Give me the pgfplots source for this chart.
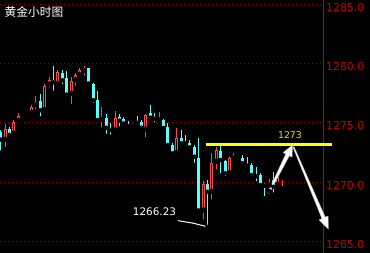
\documentclass[border=0pt]{standalone}
\usepackage{pgfplots}
\pgfplotsset{compat=1.18}
\usepackage{pgfplotstable}
\usepackage{fontspec}
\setmainfont{DejaVu Sans}
\newfontfamily\cjk{Noto Sans CJK SC}

\definecolor{upred}{RGB}{255,72,72}
\definecolor{downcyan}{RGB}{84,255,255}
\definecolor{gridred}{RGB}{150,0,0}
\definecolor{axisred}{RGB}{190,0,0}
\definecolor{labelred}{RGB}{200,0,0}
\definecolor{level}{RGB}{255,255,0}
\definecolor{leveltext}{RGB}{225,225,0}

% hourly gold candles: x position, open, high, low, close
% falling candles (filled cyan)
\pgfplotstableread{
x     o       h       l       c
0.5   1274.20 1274.40 1272.50 1273.60
9.5   1274.50 1274.70 1273.80 1274.00
22.5  1275.72 1275.72 1275.64 1275.64
27.5  1275.62 1275.62 1275.54 1275.54
40.5  1276.84 1277.43 1275.38 1276.08
53.5  1278.60 1279.85 1277.55 1278.44
62.5  1279.24 1279.50 1278.10 1278.60
66.5  1278.76 1279.37 1277.35 1277.40
88.5  1279.60 1279.66 1277.97 1278.33
93.5  1278.33 1278.35 1276.50 1276.92
97.5  1276.90 1277.70 1274.87 1275.24
106.5 1275.44 1275.78 1273.90 1274.60
110.5 1274.60 1274.96 1273.84 1274.40
119.5 1275.52 1275.80 1274.54 1275.20
123.5 1275.30 1275.52 1274.65 1274.96
128.5 1274.87 1275.15 1274.40 1274.73
137.5 1275.15 1275.57 1274.87 1275.00
141.5 1275.07 1275.24 1274.30 1274.60
150.5 1275.82 1276.56 1275.15 1275.45
154.5 1275.52 1275.86 1274.87 1275.35
163.5 1275.25 1275.35 1274.56 1274.56
167.5 1274.69 1275.00 1272.90 1273.14
172.5 1273.14 1273.28 1272.16 1272.44
181.5 1273.71 1274.41 1273.14 1273.29
185.5 1273.42 1273.98 1273.00 1273.29
189.5 1273.29 1273.57 1272.72 1272.95
194.5 1273.00 1273.14 1271.46 1272.16
198.5 1272.07 1273.70 1267.38 1267.62
207.5 1269.85 1270.19 1266.23 1269.20
220.5 1272.66 1273.14 1270.60 1271.88
225.5 1271.82 1271.88 1270.33 1270.76
242.5 1272.07 1272.30 1271.37 1271.60
247.5 1271.54 1272.16 1271.03 1271.40
251.5 1271.46 1271.60 1270.47 1270.60
256.5 1270.62 1271.32 1269.91 1270.50
260.5 1270.60 1270.76 1269.62 1269.77
264.5 1269.85 1269.91 1268.65 1269.71
273.5 1270.19 1270.89 1268.95 1269.62
}\downbars

% rising candles (hollow red)
\pgfplotstableread{
x     o       h       l       c
5.5   1273.60 1274.90 1272.80 1274.50
13.5  1274.10 1275.25 1273.90 1275.10
18.5  1275.15 1275.86 1274.96 1275.60
31.5  1275.83 1276.56 1275.57 1276.37
35.5  1276.50 1277.26 1276.00 1276.80
44.5  1276.08 1278.33 1275.70 1278.16
49.5  1278.25 1278.90 1277.80 1278.67
57.5  1278.30 1279.45 1278.00 1279.30
71.5  1277.46 1278.90 1276.40 1278.53
75.5  1278.60 1279.24 1277.97 1279.03
79.5  1279.03 1279.66 1278.84 1279.50
84.5  1279.37 1279.80 1278.80 1279.60
101.5 1275.24 1276.37 1274.45 1275.32
115.5 1274.37 1276.00 1274.30 1275.44
132.5 1274.73 1274.90 1274.70 1274.85
145.5 1274.45 1275.75 1273.60 1275.67
159.5 1275.20 1275.95 1275.00 1275.35
176.5 1272.44 1274.55 1272.16 1273.71
203.5 1267.62 1270.10 1266.67 1269.85
211.5 1269.20 1272.44 1268.36 1271.60
216.5 1271.74 1273.00 1270.90 1272.72
229.5 1270.76 1272.16 1270.70 1272.02
233.5 1272.02 1272.50 1271.94 1272.30
238.5 1272.36 1272.44 1272.25 1272.44
269.5 1269.71 1270.30 1269.25 1269.96
277.5 1269.77 1270.76 1269.62 1270.47
282.5 1270.35 1270.61 1269.49 1270.45
}\upbars

\begin{document}
\begin{tikzpicture}
\useasboundingbox (0,0) rectangle (370pt,253pt);
\clip (0,0) rectangle (370pt,253pt);
\fill[black] (0,0) rectangle (370pt,253pt);
\begin{axis}[
  at={(0,0)}, anchor=south west,
  scale only axis, width=323.5pt, height=253pt,
  xmin=0, xmax=323.5, ymin=1264.03, ymax=1285.38,
  clip=false,
  axis line style={draw=none},
  xtick=\empty,
  ytick={1265,1270,1275,1280,1285},
  ymajorgrids,
  grid style={gridred, line width=1pt, dash pattern=on 1pt off 3pt},
  major tick length=0pt,
  yticklabel pos=right,
  /pgf/number format/assume math mode=true,
  yticklabel={\pgfmathprintnumber[fixed,fixed zerofill,precision=1,1000 sep={}]{\tick}},
  yticklabel style={font=\fontsize{10.9}{11}\selectfont, text=labelred,
    anchor=west, inner sep=0pt, xshift=2.5pt, yshift=-3pt},
  candle/.style={forget plot, solid, only marks, mark=none,
    error bars/.cd, y dir=plus, y explicit, error mark=none},
]
% right price scale line
\draw[axisred, line width=1pt, solid] (rel axis cs:1,0) -- (rel axis cs:1,1);

% wicks
\addplot[candle, error bar style={line width=1pt, draw=downcyan, solid}]
  table[x=x, y=l, y error expr=\thisrow{h}-\thisrow{l}] {\downbars};
\addplot[candle, error bar style={line width=1pt, draw=upred, solid}]
  table[x=x, y=l, y error expr=\thisrow{h}-\thisrow{l}] {\upbars};

% bodies
\addplot[candle, error bar style={line width=3pt, draw=downcyan, solid}]
  table[x=x, y=c, y error expr={max(\thisrow{o}-\thisrow{c},0.09)}] {\downbars};
\addplot[candle, error bar style={line width=3pt, draw=upred, solid}]
  table[x=x, y=o, y error expr={max(\thisrow{c}-\thisrow{o},0.09)}] {\upbars};
% hollow centre of the rising candles
\addplot[candle, error bar style={line width=1pt, draw=black, solid}]
  table[x=x, y expr=\thisrow{o}+0.085, y error expr={max(\thisrow{c}-\thisrow{o}-0.17,0)}] {\upbars};

% resistance level
\addplot[forget plot, solid, level, line width=3.3pt] coordinates {(206,1273.2) (332,1273.2)};
\node[text=leveltext, font=\fontsize{9.4}{10}\selectfont] at (axis cs:290,1273.99) {1273};

% low marker
\addplot[forget plot, solid, white, line width=1pt] coordinates
  {(178,1266.76) (193,1266.55) (207,1266.25)};
\node[text=white, font=\fontsize{10.4}{11}\selectfont] at (axis cs:154.5,1267.49) {1266.23};

% expected path: tapered arrows
\addplot[forget plot, solid, fill=white, draw=gray!55, line width=0.4pt] coordinates
  {(269.215,1269.063) (289.37,1272.238) (292.05,1272.124) (292.5,1273.144)
   (283.11,1272.502) (285.79,1272.388) (267.785,1269.123)} -- cycle;
\addplot[forget plot, solid, fill=white, draw=gray!55, line width=0.4pt] coordinates
  {(294.05,1272.994) (325.27,1267.047) (328.21,1267.153) (328.3,1266.055)
   (319.01,1266.823) (321.95,1266.929) (292.95,1272.956)} -- cycle;

% title
\node[text=white, font=\cjk\fontsize{11.7}{12}\selectfont] at (axis cs:34,1284.33) {黄金小时图};
\end{axis}
\end{tikzpicture}
\end{document}
